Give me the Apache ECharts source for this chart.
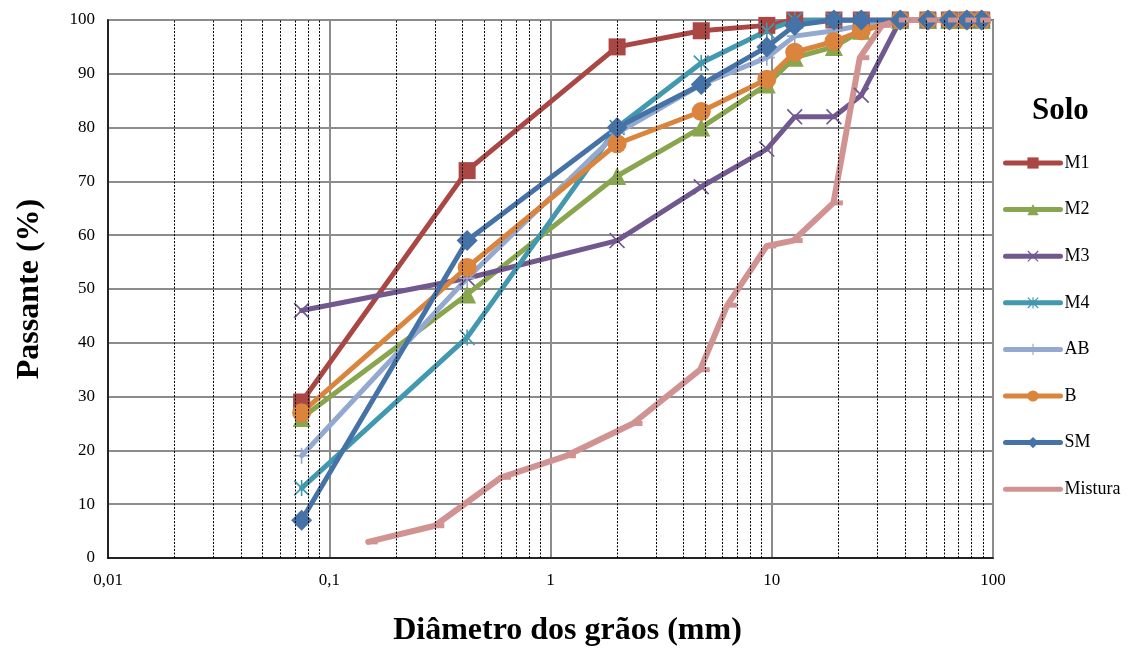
<!DOCTYPE html>
<html>
<head>
<meta charset="utf-8">
<title>Curvas granulométricas</title>
<script src="https://cdn.jsdelivr.net/npm/echarts@6/dist/echarts.min.js"></script>
<style>
  html, body { margin: 0; padding: 0; background: #ffffff; }
  #chart { width: 1138px; height: 648px; }
</style>
</head>
<body>
<div id="chart"></div>
<script>
// Sieve openings (mm) used for the soil samples
const sieveSizes = [0.075, 0.42, 2.0, 4.8, 9.5, 12.7, 19.1, 25.4, 38.1, 50.8, 63.5, 76.2, 88.9];

// Percent passing for each soil
const passM1 = [29, 72, 95, 98, 99, 100, 100, 100, 100, 100, 100, 100, 100];
const passM2 = [26, 49, 71, 80, 88, 93, 95, 98, 100, 100, 100, 100, 100];
const passM3 = [46, 52, 59, 69, 76, 82, 82, 86, 100, 100, 100, 100, 100];
const passM4 = [13, 41, 80, 92, 98, 100, 100, 100, 100, 100, 100, 100, 100];
const passAB = [19, 52, 79, 88, 93, 97, 98, 99, 100, 100, 100, 100, 100];
const passB  = [27, 54, 77, 83, 89, 94, 96, 98, 100, 100, 100, 100, 100];
const passSM = [7, 59, 80, 88, 95, 99, 100, 100, 100, 100, 100, 100, 100];

// The blend was sieved on its own set of openings
const misturaSizes = [0.15, 0.3, 0.6, 1.18, 2.36, 4.75, 6.3, 9.5, 12.5, 19, 25, 31.5, 38.1, 50.8, 63.5, 76.2, 88.9];
const passMistura  = [3, 6, 15, 19, 25, 35, 47, 58, 59, 66, 93, 99, 100, 100, 100, 100, 100];

// Log-axis decades and the 2..9 subdivisions shown as dotted minor lines
const decades = [0.01, 0.1, 1, 10];
const minorSteps = [2, 3, 4, 5, 6, 7, 8, 9];

const yTicks = { min: 0, max: 100, interval: 10 };

const seriesNames = ['M1', 'M2', 'M3', 'M4', 'AB', 'B', 'SM', 'Mistura'];

// Marker shapes
const SYM_X = 'path://M0,1.5 L1.5,0 L10,8.5 L18.5,0 L20,1.5 L11.5,10 L20,18.5 L18.5,20 L10,11.5 L1.5,20 L0,18.5 L8.5,10 Z';
const SYM_STAR = SYM_X + ' M9,0 L11,0 L11,20 L9,20 Z';
const SYM_PLUS = 'path://M9,0 L11,0 L11,9 L20,9 L20,11 L11,11 L11,20 L9,20 L9,11 L0,11 L0,9 L9,9 Z';
const SYM_DASH = 'path://M0,0 L10,0 L10,4 L0,4 Z';

const FONT = "'Liberation Serif', 'Times New Roman', serif";

function pairs(xs, ys) {
  return xs.map((x, i) => [x, ys[i]]);
}

function soilSeries(name, xs, ys, color, symbol, size, extra) {
  return Object.assign({
    name: name,
    type: 'line',
    data: pairs(xs, ys),
    symbol: symbol,
    symbolSize: size,
    showAllSymbol: true,
    z: 3,
    lineStyle: { color: color, width: 5, cap: 'round', join: 'round' },
    itemStyle: { color: color, borderWidth: 0 },
    emphasis: { disabled: true },
    animation: false
  }, extra || {});
}

const minorLines = [];
decades.forEach(d => minorSteps.forEach(k => minorLines.push({ xAxis: d * k })));

// Legend entries; the blend shows only its line in the key
const legendData = seriesNames.map(n =>
  n === 'Mistura' ? { name: n, itemStyle: { opacity: 0 } } : { name: n });

const chart = echarts.init(document.getElementById('chart'), null, { renderer: 'canvas' });

chart.setOption({
  backgroundColor: '#ffffff',
  animation: false,
  textStyle: { fontFamily: FONT, color: '#000' },
  title: {
    text: 'Solo',
    left: 1027,
    top: 90,
    textStyle: { fontFamily: FONT, fontSize: 31, fontWeight: 'bold', color: '#000' }
  },
  legend: {
    data: legendData,
    orient: 'vertical',
    left: 998,
    top: 149,
    itemWidth: 55,
    itemHeight: 14,
    itemGap: 28.6,
    lineStyle: { width: 5, cap: 'round' },
    textStyle: { fontFamily: FONT, fontSize: 18, color: '#000', padding: [0, 0, 0, -1] },
    selectedMode: false
  },
  grid: {
    left: 108, right: 145, top: 20, bottom: 90,
    show: true, borderColor: '#000', borderWidth: 1.5,
    containLabel: false,
    outerBoundsMode: 'none'
  },
  xAxis: {
    type: 'log',
    logBase: 10,
    min: 0.01,
    max: 100,
    name: 'Diâmetro dos grãos (mm)',
    nameLocation: 'middle',
    nameGap: 57,
    nameTextStyle: {
      fontFamily: FONT, fontSize: 32, fontWeight: 'bold', color: '#000',
      padding: [0, 0, 0, 34]
    },
    axisLine: { show: true, lineStyle: { color: '#000', width: 1.5 } },
    axisTick: { show: false },
    axisLabel: {
      fontFamily: FONT, fontSize: 17, color: '#000', margin: 14,
      formatter: v => String(v).replace('.', ',')
    },
    splitLine: { show: true, lineStyle: { color: '#8c8c8c', width: 2 } }
  },
  yAxis: {
    type: 'value',
    min: yTicks.min,
    max: yTicks.max,
    interval: yTicks.interval,
    name: 'Passante (%)',
    nameLocation: 'middle',
    nameGap: 62,
    nameTextStyle: { fontFamily: FONT, fontSize: 32, fontWeight: 'bold', color: '#000' },
    axisLine: { show: true, lineStyle: { color: '#000', width: 1.5 } },
    axisTick: { show: false },
    axisLabel: { fontFamily: FONT, fontSize: 17, color: '#000', margin: 13 },
    splitLine: { show: true, lineStyle: { color: '#8c8c8c', width: 2 } }
  },
  series: [
    {
      name: 'minor-grid',
      type: 'line',
      data: [],
      z: 1,
      silent: true,
      markLine: {
        silent: true,
        symbol: 'none',
        label: { show: false },
        animation: false,
        lineStyle: { color: '#000', width: 1, type: [2, 1.5] },
        emphasis: { disabled: true },
        data: minorLines
      }
    },
    soilSeries('M1', sieveSizes, passM1, '#AA4643', 'rect', 17),
    soilSeries('M2', sieveSizes, passM2, '#89A54E', 'triangle', 18),
    soilSeries('M3', sieveSizes, passM3, '#71588F', SYM_X, 16),
    soilSeries('M4', sieveSizes, passM4, '#4198AF', SYM_STAR, 16),
    soilSeries('AB', sieveSizes, passAB, '#93A9CF', SYM_PLUS, 16),
    soilSeries('B', sieveSizes, passB, '#DB843D', 'circle', 19),
    soilSeries('SM', sieveSizes, passSM, '#4572A7', 'diamond', 21),
    soilSeries('Mistura', misturaSizes, passMistura, '#D19392', SYM_DASH, [11, 5],
      { symbolOffset: [4, 0], lineStyle: { color: '#D19392', width: 6, cap: 'round', join: 'round' } })
  ]
});
</script>
</body>
</html>
